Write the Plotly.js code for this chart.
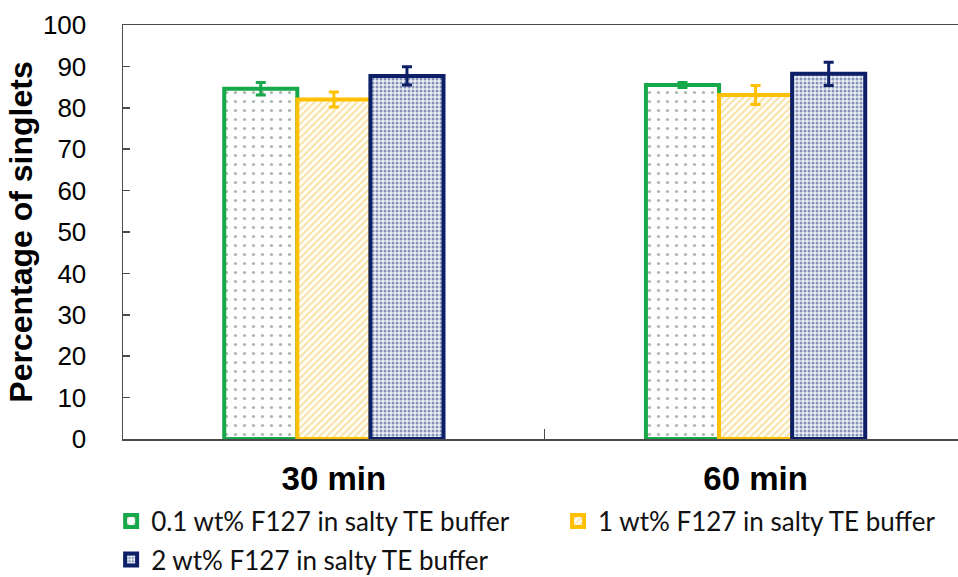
<!DOCTYPE html>
<html>
<head>
<meta charset="utf-8">
<script src="https://cdn.plot.ly/plotly-3.0.1.min.js"></script>
<style>
  html, body { margin: 0; padding: 0; background: #fff; overflow: hidden; }
  #chart { width: 958px; height: 577px; }
</style>
</head>
<body>
<div id="chart"></div>
<script>
// Incubation times on the x axis
const categories = ['30 min', '60 min'];

// Series labels
const seriesNames = [
  '0.1 wt% F127 in salty TE buffer',
  '1 wt% F127 in salty TE buffer',
  '2 wt% F127 in salty TE buffer'
];

// Percentage of singlets and error bar half-widths
const pct01 = [84.6, 85.5];
const err01 = [1.5, 0.6];
const pct1 = [82.0, 83.1];
const err1 = [1.8, 2.3];
const pct2 = [87.7, 88.2];
const err2 = [2.2, 2.8];

// y axis ticks
const yTicks = [0, 10, 20, 30, 40, 50, 60, 70, 80, 90, 100];

const styles = [
  { line: '#16a84a', bg: '#fdfefd', fg: '#aab8ae', shape: '.', size: 9, solidity: 0.1, legend: 'legend' },
  { line: '#ffc000', bg: '#fffdf7', fg: '#f8e0a0', shape: '/', size: 5, solidity: 0.35, legend: 'legend2' },
  { line: '#0d1f66', bg: '#eceff5', fg: '#8593b8', shape: '.', size: 4, solidity: 0.45, legend: 'legend3' }
];

const values = [pct01, pct1, pct2];
const errors = [err01, err1, err2];

const traces = values.map((v, i) => ({
  type: 'bar',
  name: seriesNames[i],
  legend: styles[i].legend,
  x: categories,
  y: v,
  marker: {
    color: styles[i].bg,
    line: { color: styles[i].line, width: 4 },
    pattern: {
      shape: styles[i].shape,
      fgcolor: styles[i].fg,
      bgcolor: styles[i].bg,
      size: styles[i].size,
      solidity: styles[i].solidity
    }
  },
  error_y: {
    type: 'data',
    array: errors[i],
    visible: true,
    color: styles[i].line,
    thickness: 3,
    width: 5
  },
  hoverinfo: 'skip'
}));

const legendFont = { family: 'Lato, Open Sans, sans-serif', size: 26, color: '#111' };
function legendAt(x, y) {
  return {
    orientation: 'h',
    xref: 'container',
    yref: 'container',
    x: x,
    xanchor: 'left',
    y: y,
    yanchor: 'middle',
    itemwidth: 30,
    font: legendFont,
    bgcolor: 'rgba(0,0,0,0)'
  };
}

const layout = {
  width: 958,
  height: 577,
  margin: { l: 123, r: 0, t: 25, b: 138 },
  paper_bgcolor: '#ffffff',
  plot_bgcolor: '#ffffff',
  barmode: 'group',
  bargap: 0.48,
  bargroupgap: 0,
  font: { family: 'Arial, Liberation Sans, sans-serif', color: '#000' },
  xaxis: {
    type: 'category',
    range: [-0.5, 1.48],
    showline: true,
    linecolor: '#4a4a4a',
    linewidth: 1.5,
    mirror: true,
    showgrid: false,
    zeroline: false,
    ticks: 'inside',
    tickson: 'boundaries',
    ticklen: 10,
    tickwidth: 1.5,
    tickcolor: '#4a4a4a',
    ticklabelstandoff: 10,
    tickfont: { family: 'Arial, Liberation Sans, sans-serif', size: 33, color: '#000', weight: 'bold' }
  },
  yaxis: {
    range: [0, 100],
    tickvals: yTicks,
    showline: true,
    linecolor: '#4a4a4a',
    linewidth: 1.5,
    showgrid: false,
    zeroline: false,
    ticks: 'inside',
    ticklen: 7,
    tickwidth: 1.5,
    tickcolor: '#4a4a4a',
    ticklabelstandoff: 30,
    tickfont: { family: 'Arial, Liberation Sans, sans-serif', size: 26, color: '#000' },
    title: {
      text: 'Percentage of singlets',
      font: { family: 'Arial, Liberation Sans, sans-serif', size: 32, color: '#000', weight: 'bold' },
      standoff: 0
    }
  },
  showlegend: true,
  legend: legendAt(0.116, 0.097),
  legend2: legendAt(0.5825, 0.097),
  legend3: legendAt(0.116, 0.03)
};

Plotly.newPlot('chart', traces, layout, { displayModeBar: false, staticPlot: true });
</script>
</body>
</html>
